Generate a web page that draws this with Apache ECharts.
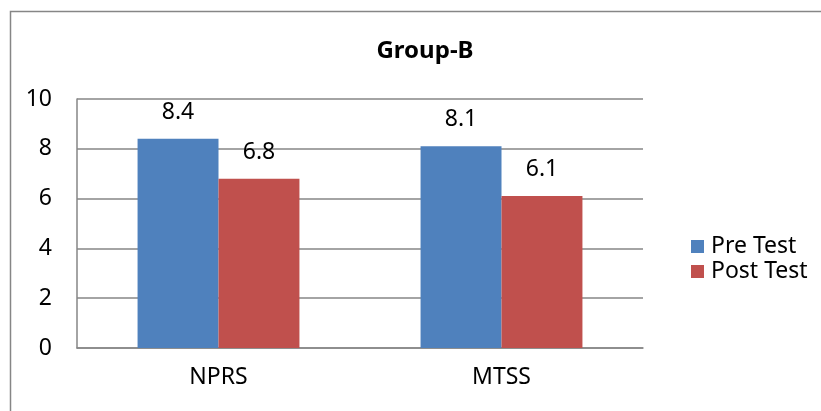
<!DOCTYPE html>
<html>
<head>
<meta charset="utf-8">
<script src="https://cdn.jsdelivr.net/npm/echarts@6/dist/echarts.min.js"></script>
<style>
html,body{margin:0;padding:0;background:#fff;}
#c{width:821px;height:411px;}
</style>
</head>
<body>
<div id="c"></div>
<script>
const categories = ['NPRS', 'MTSS'];
const seriesNames = ['Pre Test', 'Post Test'];
const preTest = [8.4, 8.1];
const postTest = [6.8, 6.1];
const yTicks = [0, 2, 4, 6, 8, 10];
const colors = ['#4F81BD', '#C0504D'];

const chart = echarts.init(document.getElementById('c'), null, {renderer: 'canvas'});
const font = '"Noto Sans", sans-serif';
const labelStyle = {show: true, position: 'top', distance: 15, color: '#000', fontFamily: font, fontSize: 23};
chart.setOption({
  animation: false,
  backgroundColor: '#fff',
  graphic: [{
    type: 'rect', left: 8, top: 9, silent: true,
    shape: {x: 0, y: 0, width: 1000, height: 600},
    style: {fill: 'none', stroke: '#868686', lineWidth: 1.5}
  }],
  title: {
    text: 'Group-B', left: 420, top: 34, textAlign: 'center',
    textStyle: {fontFamily: font, fontWeight: 'bold', fontSize: 24, color: '#000'}
  },
  legend: {
    orient: 'vertical', left: 686, top: 230, itemWidth: 13, itemHeight: 13, itemGap: 2,
    icon: 'rect',
    textStyle: {fontFamily: font, fontSize: 23, color: '#000', padding: [0, 0, 0, 2]},
    data: seriesNames
  },
  grid: {left: 77, right: 178, top: 99, bottom: 63, containLabel: false},
  xAxis: {
    type: 'category', data: categories,
    axisLine: {lineStyle: {color: '#868686', width: 1.5}},
    axisTick: {show: false},
    axisLabel: {color: '#000', fontFamily: font, fontSize: 23, margin: 18}
  },
  yAxis: {
    type: 'value', min: yTicks[0], max: yTicks[yTicks.length - 1], interval: 2,
    axisLine: {show: true, lineStyle: {color: '#868686', width: 1.5}},
    axisTick: {show: false},
    splitLine: {lineStyle: {color: '#868686', width: 1.5}},
    axisLabel: {color: '#000', fontFamily: font, fontSize: 23, margin: 25}
  },
  series: [
    {name: seriesNames[0], type: 'bar', data: preTest, barGap: '0%', barCategoryGap: '42.8%',
     itemStyle: {color: colors[0]}, label: labelStyle},
    {name: seriesNames[1], type: 'bar', data: postTest, barGap: '0%', barCategoryGap: '42.8%',
     itemStyle: {color: colors[1]}, label: labelStyle}
  ]
});
</script>
</body>
</html>
